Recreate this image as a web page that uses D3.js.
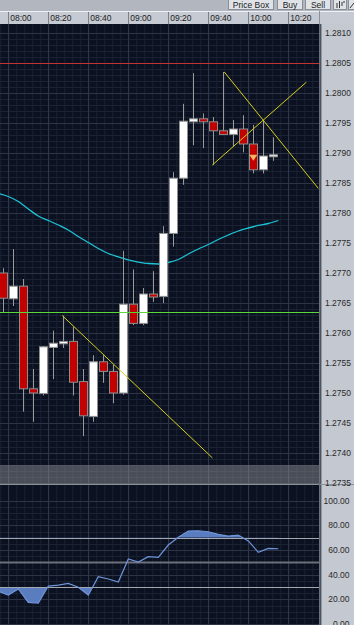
<!DOCTYPE html>
<html>
<head>
<meta charset="utf-8">
<script src="https://cdn.jsdelivr.net/npm/d3@7"></script>
<style>
  html, body { margin: 0; padding: 0; background: #b4b8c0; }
  #chart { width: 354px; height: 625px; }
  text { font-family: "Liberation Sans", Arial, sans-serif; }
</style>
</head>
<body>
<div id="chart"></div>
<script>
// 5 minute candles, start time of each bar
var candleTimes = ["07:55", "08:00", "08:05", "08:10", "08:15", "08:20", "08:25", "08:30", "08:35", "08:40",
    "08:45", "08:50", "08:55", "09:00", "09:05", "09:10", "09:15", "09:20", "09:25", "09:30",
    "09:35", "09:40", "09:45", "09:50", "09:55", "10:00", "10:05", "10:10"];
var openP = [1.27700, 1.27657, 1.27678, 1.27507, 1.27499, 1.27576, 1.27582, 1.27586, 1.27519, 1.27461,
    1.27552, 1.27536, 1.27500, 1.27648, 1.27616, 1.27665, 1.27661, 1.27766, 1.27858, 1.27952,
    1.27957, 1.27952, 1.27937, 1.27931, 1.27940, 1.27915, 1.27872, 1.27894];
var highP = [1.27708, 1.27740, 1.27690, 1.27540, 1.27578, 1.27604, 1.27629, 1.27610, 1.27540, 1.27563,
    1.27563, 1.27547, 1.27737, 1.27706, 1.27675, 1.27703, 1.27778, 1.27868, 1.27982, 1.28033,
    1.27966, 1.27960, 1.28035, 1.27955, 1.27963, 1.27947, 1.27955, 1.27926];
var lowP = [1.27635, 1.27645, 1.27469, 1.27452, 1.27496, 1.27523, 1.27575, 1.27496, 1.27428, 1.27452,
    1.27517, 1.27483, 1.27497, 1.27613, 1.27613, 1.27652, 1.27650, 1.27744, 1.27847, 1.27913,
    1.27908, 1.27880, 1.27930, 1.27911, 1.27901, 1.27866, 1.27866, 1.27887];
var closeP = [1.27658, 1.27678, 1.27507, 1.27500, 1.27577, 1.27583, 1.27586, 1.27518, 1.27462, 1.27552,
    1.27536, 1.27500, 1.27648, 1.27616, 1.27665, 1.27660, 1.27766, 1.27858, 1.27953, 1.27957,
    1.27952, 1.27937, 1.27931, 1.27940, 1.27915, 1.27872, 1.27895, 1.27897];

// indicator points (moving average + oscillator)
var indTimes = ["07:55", "08:00", "08:05", "08:10", "08:15", "08:20", "08:25", "08:30", "08:35", "08:40",
    "08:45", "08:50", "08:55", "09:00", "09:05", "09:10", "09:15", "09:20", "09:25", "09:30",
    "09:35", "09:40", "09:45", "09:50", "09:55", "10:00", "10:05", "10:10", "10:15"];
var maValues = [1.278325, 1.278275, 1.278192, 1.278067, 1.277950, 1.277875, 1.277800, 1.277717, 1.277608, 1.277508,
    1.277408, 1.277325, 1.277267, 1.277217, 1.277183, 1.277158, 1.277150, 1.277175, 1.277225, 1.277317,
    1.277400, 1.277475, 1.277558, 1.277633, 1.277700, 1.277750, 1.277792, 1.277825, 1.277875];
var rsiValues = [26.6, 23.5, 28.4, 17.6, 17.0, 30.8, 31.6, 33.0, 29.8, 23.5,
    38.4, 36.5, 34.1, 52.8, 50.3, 54.7, 54.1, 64.1, 70.4, 75.5,
    75.7, 74.9, 72.8, 71.4, 72.2, 67.4, 58.2, 61.4, 61.1];
var rsiLevels = [70, 50, 30];

var timeTicks = ["08:00", "08:20", "08:40", "09:00", "09:20", "09:40", "10:00", "10:20"];
var priceTicks = [1.2810, 1.2805, 1.2800, 1.2795, 1.2790, 1.2785, 1.2780, 1.2775, 1.2770, 1.2765,
    1.2760, 1.2755, 1.2750, 1.2745, 1.2740, 1.2735];
var rsiTicks = [100, 80, 60, 40, 20, 0];

// drawn objects
var redLevel = 1.2805;
var greenLevel = 1.27635;
var trendLines = [
    {t1: "08:27", p1: 1.27629, t2: "09:42", p2: 1.27392},
    {t1: "09:48", p1: 1.28035, t2: "10:35", p2: 1.27841},
    {t1: "09:42", p1: 1.27880, t2: "10:29", p2: 1.28018}
];
var markerTime = "10:00", markerPrice = 1.27897;
var buttons = ["Price Box", "Buy", "Sell"];

function toMin(s) {
    var a = s.split(":");
    return +a[0] * 60 + +a[1];
}

var width = 354, height = 625;
var plotRight = 319, plotTop = 24, plotBottom = 484;
var indTop = 485;

var svg = d3.select("#chart").append("svg")
    .attr("width", width)
    .attr("height", height);

var xScale = d3.scaleLinear()
    .domain([toMin("08:00"), toMin("10:20")])
    .range([8.3, 288.3]);
var yScale = d3.scaleLinear()
    .domain([1.2735, 1.2810])
    .range([483, 33]);
var rScale = d3.scaleLinear()
    .domain([0, 100])
    .range([624, 500.8]);

// backgrounds
svg.append("rect").attr("x", 0).attr("y", 0).attr("width", width).attr("height", height).attr("fill", "#c4c8d0");
svg.append("rect").attr("x", 0).attr("y", 0).attr("width", width).attr("height", 11).attr("fill", "#b2b6be");
svg.append("rect").attr("x", 0).attr("y", plotTop).attr("width", plotRight).attr("height", height - plotTop).attr("fill", "#0b1121");

var defs = svg.append("defs");
defs.append("clipPath").attr("id", "clipPrice")
    .append("rect").attr("x", 0).attr("y", plotTop).attr("width", plotRight).attr("height", plotBottom - plotTop);
defs.append("clipPath").attr("id", "clipInd")
    .append("rect").attr("x", 0).attr("y", indTop).attr("width", plotRight).attr("height", height - indTop);
defs.append("clipPath").attr("id", "clipAbove70")
    .append("rect").attr("x", 0).attr("y", indTop).attr("width", plotRight).attr("height", rScale(70) - indTop);
defs.append("clipPath").attr("id", "clipBelow30")
    .append("rect").attr("x", 0).attr("y", rScale(30)).attr("width", plotRight).attr("height", height - rScale(30));

// grid
var grid = svg.append("g");
var minorX = d3.range(toMin("07:52"), toMin("10:40"), 4);
grid.selectAll(".vminor").data(minorX).enter().append("line")
    .attr("x1", function (d) { return xScale(d) + 0.5; })
    .attr("x2", function (d) { return xScale(d) + 0.5; })
    .attr("y1", plotTop).attr("y2", height)
    .attr("stroke", "#1a2334").attr("stroke-width", 1);
var minorY = d3.range(1.2735, 1.28105, 0.0001);
grid.selectAll(".hminor").data(minorY).enter().append("line")
    .attr("x1", 0).attr("x2", plotRight)
    .attr("y1", function (d) { return Math.round(yScale(d)) + 0.5; })
    .attr("y2", function (d) { return Math.round(yScale(d)) + 0.5; })
    .attr("stroke", "#1a2334");
var minorR = d3.range(0, 101, 5);
grid.selectAll(".rminor").data(minorR).enter().append("line")
    .attr("x1", 0).attr("x2", plotRight)
    .attr("y1", function (d) { return Math.round(rScale(d)) + 0.5; })
    .attr("y2", function (d) { return Math.round(rScale(d)) + 0.5; })
    .attr("stroke", "#1a2334");
grid.selectAll(".hmajor").data(priceTicks).enter().append("line")
    .attr("x1", 0).attr("x2", plotRight)
    .attr("y1", function (d) { return Math.round(yScale(d)) + 0.5; })
    .attr("y2", function (d) { return Math.round(yScale(d)) + 0.5; })
    .attr("stroke", "#2c3446");
grid.selectAll(".rmajor").data(rsiTicks).enter().append("line")
    .attr("x1", 0).attr("x2", plotRight)
    .attr("y1", function (d) { return Math.round(rScale(d)) + 0.5; })
    .attr("y2", function (d) { return Math.round(rScale(d)) + 0.5; })
    .attr("stroke", "#2c3446");
grid.selectAll(".vmajor").data(timeTicks).enter().append("line")
    .attr("x1", function (d) { return Math.round(xScale(toMin(d))) + 0.5; })
    .attr("x2", function (d) { return Math.round(xScale(toMin(d))) + 0.5; })
    .attr("y1", plotTop).attr("y2", height)
    .attr("stroke", "#2e3649");

// price panel
var pricePanel = svg.append("g").attr("clip-path", "url(#clipPrice)");

pricePanel.append("line")
    .attr("x1", 0).attr("x2", plotRight)
    .attr("y1", Math.round(yScale(redLevel)) + 0.5).attr("y2", Math.round(yScale(redLevel)) + 0.5)
    .attr("stroke", "#c43232").attr("stroke-width", 1);

var maData = indTimes.map(function (t, i) { return {t: toMin(t), v: maValues[i]}; });
pricePanel.append("path")
    .attr("d", d3.line().curve(d3.curveMonotoneX)
        .x(function (d) { return xScale(d.t); })
        .y(function (d) { return yScale(d.v); })(maData))
    .attr("fill", "none")
    .attr("stroke", "#1ec4d6")
    .attr("stroke-width", 1.3);

var candles = candleTimes.map(function (t, i) {
    return {t: toMin(t) + 2.5, o: openP[i], h: highP[i], l: lowP[i], c: closeP[i]};
});
var cg = pricePanel.selectAll(".candle").data(candles).enter().append("g");
cg.append("line")
    .attr("x1", function (d) { return Math.round(xScale(d.t)) + 0.5; })
    .attr("x2", function (d) { return Math.round(xScale(d.t)) + 0.5; })
    .attr("y1", function (d) { return yScale(d.h); })
    .attr("y2", function (d) { return yScale(d.l); })
    .attr("stroke", "#9a9a9a");
cg.append("rect")
    .attr("x", function (d) { return Math.round(xScale(d.t)) - 3.5; })
    .attr("y", function (d) { return yScale(Math.max(d.o, d.c)); })
    .attr("width", 8)
    .attr("height", function (d) { return Math.max(2, Math.abs(yScale(d.o) - yScale(d.c))); })
    .attr("fill", function (d) { return d.c >= d.o ? "#ffffff" : "#c20000"; })
    .attr("stroke", "#8e8e8e")
    .attr("stroke-width", 1);

pricePanel.append("line")
    .attr("x1", 0).attr("x2", plotRight)
    .attr("y1", Math.round(yScale(greenLevel)) + 0.5).attr("y2", Math.round(yScale(greenLevel)) + 0.5)
    .attr("stroke", "#5ad83a").attr("stroke-width", 1);

pricePanel.selectAll(".trend").data(trendLines).enter().append("line")
    .attr("x1", function (d) { return xScale(toMin(d.t1)); })
    .attr("y1", function (d) { return yScale(d.p1); })
    .attr("x2", function (d) { return xScale(toMin(d.t2)); })
    .attr("y2", function (d) { return yScale(d.p2); })
    .attr("stroke", "#d6cf1e")
    .attr("stroke-width", 1);

var mx = xScale(toMin(markerTime) + 2.5), my = yScale(markerPrice);
pricePanel.append("path")
    .attr("d", "M" + (mx - 4) + "," + my + "L" + (mx + 4) + "," + my + "L" + mx + "," + (my + 6) + "Z")
    .attr("fill", "#f2b462");

// shaded band at the bottom of the price panel
svg.append("rect")
    .attr("x", 0).attr("y", yScale(1.2738))
    .attr("width", plotRight).attr("height", plotBottom - yScale(1.2738))
    .attr("fill", "#8a8c90").attr("opacity", 0.5);

// oscillator panel
var ind = svg.append("g").attr("clip-path", "url(#clipInd)");
var rsiData = indTimes.map(function (t, i) { return {t: toMin(t), v: rsiValues[i]}; });
ind.append("path")
    .attr("clip-path", "url(#clipAbove70)")
    .attr("d", d3.area()
        .x(function (d) { return xScale(d.t); })
        .y0(rScale(70))
        .y1(function (d) { return rScale(d.v); })(rsiData))
    .attr("fill", "#5a7dbf");
ind.append("path")
    .attr("clip-path", "url(#clipBelow30)")
    .attr("d", d3.area()
        .x(function (d) { return xScale(d.t); })
        .y0(rScale(30))
        .y1(function (d) { return rScale(d.v); })(rsiData))
    .attr("fill", "#5a7dbf");
ind.selectAll(".level").data(rsiLevels).enter().append("line")
    .attr("x1", 0).attr("x2", plotRight)
    .attr("y1", function (d) { return Math.round(rScale(d)) + 0.5; })
    .attr("y2", function (d) { return Math.round(rScale(d)) + 0.5; })
    .attr("stroke", function (d) { return d == 50 ? "#6c7078" : "#a4a8b0"; })
    .attr("stroke-width", function (d) { return d == 50 ? 2 : 1; });
ind.append("path")
    .attr("d", d3.line()
        .x(function (d) { return xScale(d.t); })
        .y(function (d) { return rScale(d.v); })(rsiData))
    .attr("fill", "none")
    .attr("stroke", "#6f95da")
    .attr("stroke-width", 1.2);

// separator between panels
svg.append("line")
    .attr("x1", 0).attr("x2", width)
    .attr("y1", plotBottom + 0.5).attr("y2", plotBottom + 0.5)
    .attr("stroke", "#8c9098");

// right axis labels
svg.append("g").selectAll("text").data(priceTicks).enter().append("text")
    .attr("x", 351)
    .attr("y", function (d) { return yScale(d) + 3; })
    .attr("text-anchor", "end")
    .attr("font-size", 8.5)
    .attr("fill", "#2a2a2a")
    .text(function (d) { return d.toFixed(4); });
svg.append("g").selectAll("text").data(rsiTicks).enter().append("text")
    .attr("x", 349.5)
    .attr("y", function (d) { return rScale(d) + 3; })
    .attr("text-anchor", "end")
    .attr("font-size", 8.5)
    .attr("fill", "#2a2a2a")
    .text(function (d) { return d.toFixed(2); });

// time axis strip
var tAxis = svg.append("g");
tAxis.append("rect").attr("x", 0).attr("y", 11).attr("width", width).attr("height", 13).attr("fill", "#c6cad2");
tAxis.append("line").attr("x1", 0).attr("x2", width).attr("y1", 11.5).attr("y2", 11.5).attr("stroke", "#eef0f4");
tAxis.append("line").attr("x1", plotRight + 0.5).attr("x2", plotRight + 0.5).attr("y1", 11).attr("y2", 24).attr("stroke", "#8c9098");
var tk = tAxis.selectAll(".tick").data(timeTicks).enter().append("g");
tk.append("line")
    .attr("x1", function (d) { return Math.round(xScale(toMin(d))) + 0.5; })
    .attr("x2", function (d) { return Math.round(xScale(toMin(d))) + 0.5; })
    .attr("y1", 12).attr("y2", 24)
    .attr("stroke", "#7c8088");
tk.append("text")
    .attr("x", function (d) { return xScale(toMin(d)) + 2; })
    .attr("y", 21)
    .attr("font-size", 8.5)
    .attr("fill", "#222")
    .text(function (d) { return d; });

// toolbar buttons
var bx = [228, 277, 305], bw = [45, 25, 25];
var bt = svg.append("g").selectAll("g").data(buttons).enter().append("g");
bt.append("rect")
    .attr("x", function (d, i) { return bx[i] + 0.5; })
    .attr("y", -2.5).attr("width", function (d, i) { return bw[i]; }).attr("height", 12)
    .attr("fill", "#dfe2e7").attr("stroke", "#8a8e96");
bt.append("text")
    .attr("x", function (d, i) { return bx[i] + bw[i] / 2 + 0.5; })
    .attr("y", 8)
    .attr("text-anchor", "middle")
    .attr("font-size", 8.5)
    .attr("fill", "#222")
    .text(function (d) { return d; });
svg.append("rect").attr("x", 333.5).attr("y", -2.5).attr("width", 13).attr("height", 12)
    .attr("fill", "#dfe2e7").attr("stroke", "#8a8e96");
svg.append("path").attr("d", "M337,3V8M339.5,1V8M342,2V6M344,1V3").attr("stroke", "#333").attr("fill", "none");
svg.append("rect").attr("x", 348.5).attr("y", -2.5).attr("width", 10).attr("height", 12)
    .attr("fill", "#dfe2e7").attr("stroke", "#8a8e96");
svg.append("path").attr("d", "M350,8L354,3").attr("stroke", "#333").attr("fill", "none");

// border of plot
svg.append("line").attr("x1", plotRight + 0.5).attr("x2", plotRight + 0.5).attr("y1", plotTop).attr("y2", height)
    .attr("stroke", "#6c7078");
</script>
</body>
</html>
